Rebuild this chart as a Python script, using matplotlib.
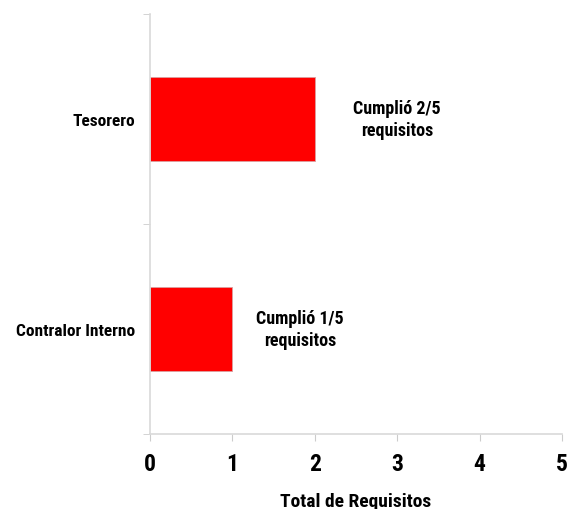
import matplotlib
matplotlib.use("Agg")
import matplotlib.pyplot as plt
from matplotlib.ticker import FixedLocator

# Datos
cargos = ["Contralor Interno", "Tesorero"]
requisitos = [1, 2]
etiquetas = ["Cumplió 1/5\nrequisitos", "Cumplió 2/5\nrequisitos"]
total_requisitos = 5

plt.rcParams["font.family"] = ["Roboto Condensed", "DejaVu Sans"]
plt.rcParams["font.weight"] = "bold"

fig = plt.figure(figsize=(5.68, 5.1), dpi=100)
ax = fig.add_axes([150 / 568, 1 - 435 / 510, 412 / 568, 420 / 510])

pos = list(range(len(cargos)))
ax.barh(pos, requisitos, height=0.4, color="#ff0000", edgecolor="#d9a0a0", linewidth=0.6)

# texto a la derecha de cada barra
desplaz = [0.82, 1.0]
for i in pos:
    ax.text(requisitos[i] + desplaz[i], i, etiquetas[i], ha="center", va="center",
            fontsize=13, fontweight="bold", color="black", linespacing=1.3)

ax.set_xlim(0, total_requisitos)
ax.set_ylim(-0.5, len(cargos) - 0.5)

ax.set_xticks(range(total_requisitos + 1))
ax.set_xticklabels([str(v) for v in range(total_requisitos + 1)], fontsize=17, fontweight="bold")
ax.set_yticks(pos)
ax.set_yticklabels(cargos, fontsize=12.5, fontweight="bold")
ax.tick_params(axis="y", length=0, pad=11)
ax.yaxis.set_minor_locator(FixedLocator([-0.5, 0.5, 1.5]))
ax.tick_params(axis="y", which="minor", length=5, color="#cccccc", direction="out")
ax.tick_params(axis="x", length=5, color="#cccccc", direction="out", pad=8)

for s in ["top", "right"]:
    ax.spines[s].set_visible(False)
for s in ["left", "bottom"]:
    ax.spines[s].set_color("#d9d9d9")
    ax.spines[s].set_linewidth(1.2)

ax.set_xlabel("Total de Requisitos", fontsize=14, fontweight="bold", labelpad=12)

fig.savefig("out.png", dpi=100)
